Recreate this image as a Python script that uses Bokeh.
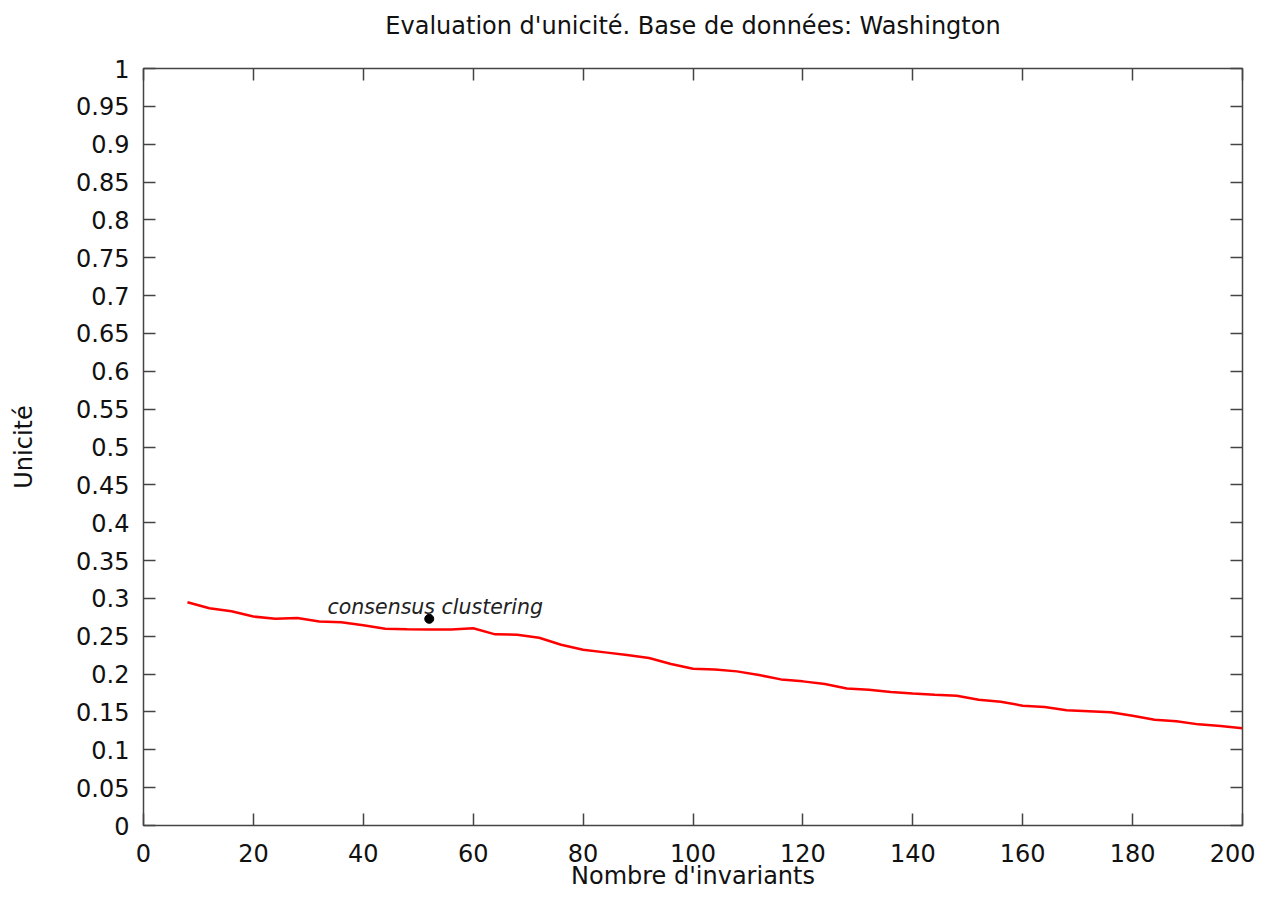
from bokeh.plotting import figure
from bokeh.models import Range1d, FixedTicker, LinearAxis
from bokeh.core.properties import value
from bokeh.embed import file_html
from bokeh.resources import INLINE

# ---- data ----
invariants = [8, 12, 16, 20, 24, 28, 32, 36, 40, 44, 48, 52, 56, 60, 64, 68, 72,
              76, 80, 84, 88, 92, 96, 100, 104, 108, 112, 116, 120, 124, 128, 132,
              136, 140, 144, 148, 152, 156, 160, 164, 168, 172, 176, 180, 184, 188,
              192, 196, 200]
unicite = [0.295, 0.287, 0.283, 0.276, 0.273, 0.274, 0.2695, 0.2685, 0.2645, 0.260,
           0.2594, 0.259, 0.259, 0.2605, 0.2525, 0.252, 0.248, 0.2388, 0.2322, 0.2287,
           0.2252, 0.2212, 0.2133, 0.2071, 0.2062, 0.2036, 0.1988, 0.193, 0.1904,
           0.1869, 0.1811, 0.1794, 0.1763, 0.1745, 0.1728, 0.1715, 0.1662, 0.1636,
           0.1583, 0.1565, 0.1521, 0.1508, 0.1495, 0.1451, 0.1398, 0.1376, 0.1336,
           0.1315, 0.1284]
consensus_x = [52]
consensus_y = [0.273]
consensus_label = ["consensus clustering"]

x_ticks = [0, 20, 40, 60, 80, 100, 120, 140, 160, 180, 200]
y_ticks = [0, 0.05, 0.1, 0.15, 0.2, 0.25, 0.3, 0.35, 0.4, 0.45, 0.5, 0.55, 0.6,
           0.65, 0.7, 0.75, 0.8, 0.85, 0.9, 0.95, 1]

title_text = "Evaluation d'unicité. Base de données: Washington"
x_label = "Nombre d'invariants"
y_label = "Unicité"

FONT = "DejaVu Sans"
FS = "24px"
AXIS_COLOR = "#444444"

p = figure(width=1255, height=892, x_range=Range1d(0, 200), y_range=Range1d(0, 1),
           output_backend="svg", toolbar_location=None,
           min_border_left=143, min_border_right=13, min_border_top=68,
           min_border_bottom=66, x_axis_location=None, y_axis_location=None)

p.title.text = title_text
p.title.align = "center"
p.title.text_font = FONT
p.title.text_font_size = FS
p.title.text_font_style = "normal"
p.title.text_color = "#111111"
p.title.standoff = 4

p.grid.visible = False
p.outline_line_color = AXIS_COLOR
p.outline_line_width = 1.5
p.background_fill_color = "white"
p.border_fill_color = "white"


def style_axis(ax, show_labels):
    ax.axis_line_color = None
    ax.major_tick_in = 12
    ax.major_tick_out = 0
    ax.minor_tick_in = 0
    ax.minor_tick_out = 0
    ax.major_tick_line_color = AXIS_COLOR
    ax.major_tick_line_width = 1.5
    ax.major_label_text_font = FONT
    ax.major_label_text_color = "#111111"
    ax.axis_label_text_font = FONT
    ax.axis_label_text_font_size = FS
    ax.axis_label_text_font_style = "normal"
    ax.axis_label_text_color = "#111111"
    if show_labels:
        ax.major_label_text_font_size = FS
    else:
        ax.major_label_text_font_size = "0px"
        ax.major_label_text_color = None
        ax.major_label_standoff = 0


y_labels = {v: f"{round(v, 2):g}" for v in y_ticks}

xb = LinearAxis(ticker=FixedTicker(ticks=x_ticks), axis_label=x_label)
style_axis(xb, True)
xb.major_label_standoff = 18
xb.axis_label_standoff = -3
p.add_layout(xb, "below")

yl = LinearAxis(ticker=FixedTicker(ticks=y_ticks), axis_label=y_label,
                major_label_overrides=y_labels)
style_axis(yl, True)
yl.major_label_standoff = 14
yl.axis_label_standoff = 35
p.add_layout(yl, "left")

# top axis: mirrored inward ticks; an invisible blank label spaces the title
xt = LinearAxis(ticker=FixedTicker(ticks=x_ticks), axis_label=" ")
style_axis(xt, False)
xt.axis_label_text_font_size = "1px"
xt.axis_label_text_color = None
xt.axis_label_standoff = 23
p.add_layout(xt, "above")

yr = LinearAxis(ticker=FixedTicker(ticks=y_ticks))
style_axis(yr, False)
p.add_layout(yr, "right")

p.line(invariants, unicite, line_color="#ff0000", line_width=2.5)

p.scatter(consensus_x, consensus_y, size=9, color="black", marker="circle")
p.text(consensus_x, consensus_y, text=consensus_label, text_font=value(FONT),
       text_font_size="20.5px", text_font_style="italic", text_color="#222222",
       text_align="center", text_baseline="alphabetic", x_offset=6, y_offset=-12)

open("out.html", "w").write(file_html(p, INLINE))
